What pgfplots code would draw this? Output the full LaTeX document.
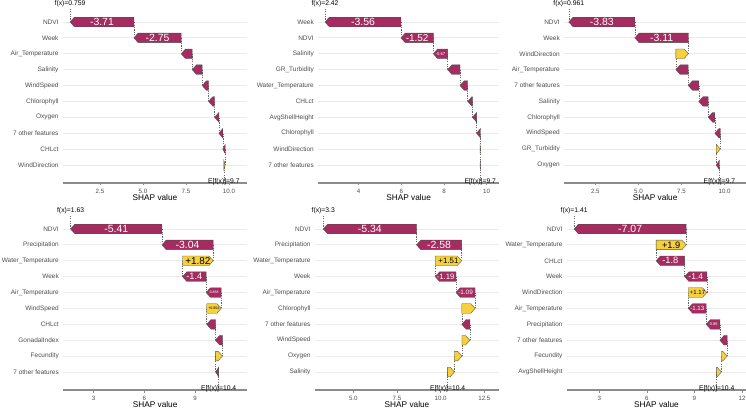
\documentclass[border=0pt]{standalone}
\usepackage{pgfplots}
\usepackage{pgfplotstable}
\pgfplotsset{compat=1.18}
\usepackage{fontspec}
\setmainfont{Liberation Sans}

\definecolor{negc}{HTML}{A52C60}
\definecolor{posc}{HTML}{F7D13D}
\definecolor{gridc}{HTML}{EBEBEB}
\definecolor{axc}{HTML}{8C8C8C}
\definecolor{txtc}{HTML}{4D4D4D}

% SHAP contributions, listed from the bottom row (first step from E[f(x)]) to the top row
\pgfplotstableread[col sep=comma,row sep=\\]{
feat,shap,fs\\
WindDirection,0.08,0\\
CHLct,-0.14,0\\
7 other features,-0.23,0\\
Oxygen,-0.25,0\\
Chlorophyll,-0.35,0\\
WindSpeed,-0.37,0\\
Salinity,-0.58,0\\
Air\_Temperature,-0.641,0\\
Week,-2.75,10.5\\
NDVI,-3.71,10.5\\
}\tabA
\pgfplotstableread[col sep=comma,row sep=\\]{
feat,shap,fs\\
7 other features,-0.01,0\\
WindDirection,0.02,0\\
Chlorophyll,-0.18,0\\
AvgShellHeight,-0.20,0\\
CHLct,-0.22,0\\
Water\_Temperature,-0.36,0\\
GR\_Turbidity,-0.58,0\\
Salinity,-0.67,4.2\\
NDVI,-1.52,10\\
Week,-3.56,10.5\\
}\tabB
\pgfplotstableread[col sep=comma,row sep=\\]{
feat,shap,fs\\
Oxygen,-0.19,0\\
GR\_Turbidity,0.24,0\\
WindSpeed,-0.32,0\\
Chlorophyll,-0.38,0\\
Salinity,-0.55,0\\
7 other features,-0.61,0\\
Air\_Temperature,-0.719,0\\
WindDirection,0.73,0\\
Week,-3.11,10.5\\
NDVI,-3.83,10.5\\
}\tabC
\pgfplotstableread[col sep=comma,row sep=\\]{
feat,shap,fs\\
7 other features,-0.176,0\\
Fecundity,0.40,0\\
GonadalIndex,-0.42,0\\
CHLct,-0.51,0\\
WindSpeed,0.854,3.6\\
Air\_Temperature,-0.888,3.6\\
Week,-1.4,9.3\\
Water\_Temperature,1.82,10\\
Precipitation,-3.04,10.5\\
NDVI,-5.41,10.5\\
}\tabD
\pgfplotstableread[col sep=comma,row sep=\\]{
feat,shap,fs\\
Salinity,0.39,0\\
Oxygen,0.43,0\\
WindSpeed,0.45,0\\
7 other features,-0.46,0\\
Chlorophyll,0.76,0\\
Air\_Temperature,-1.09,6.4\\
Week,-1.19,7.8\\
Water\_Temperature,1.51,7.9\\
Precipitation,-2.58,10.5\\
NDVI,-5.34,10.5\\
}\tabE
\pgfplotstableread[col sep=comma,row sep=\\]{
feat,shap,fs\\
AvgShellHeight,0.30,0\\
Fecundity,0.36,0\\
7 other features,-0.46,0\\
Precipitation,-0.86,4\\
Air\_Temperature,-1.13,6.1\\
WindDirection,1.17,6\\
Week,-1.4,8.5\\
CHLct,-1.8,9.3\\
Water\_Temperature,1.9,9.3\\
NDVI,-7.07,10.5\\
}\tabF

\pgfplotsset{
  wfbar/.style={draw=black!70, line width=0.35bp, mark=none},
  wfconn/.style={draw=black!60, line width=0.5bp, dash pattern=on 1.2bp off 1.2bp, mark=none},
  wf/.style={
    scale only axis, height=183bp, anchor=south west, clip=false,
    ymin=-0.133, ymax=11.385,
    ytick={1,...,10},
    axis x line*=bottom, axis y line*=left,
    y axis line style={draw=none},
    x axis line style={draw=axc, line width=1.6bp, -},
    ytick style={draw=none},
    xtick style={draw=axc, line width=0.6bp},
    major tick length=2.5bp,
    tick align=outside,
    ymajorgrids, major grid style={draw=gridc, line width=0.8bp},
    /pgf/number format/assume math mode=true,
    xticklabel style={font=\fontsize{6.2}{7}\selectfont, text=txtc},
    yticklabel style={font=\fontsize{6.5}{7}\selectfont, text=txtc, xshift=1.5bp},
    xlabel={SHAP value},
    xlabel style={font=\fontsize{8.3}{9}\selectfont, yshift=6bp},
  },
  dec/.style={xticklabel style={/pgf/number format/fixed, /pgf/number format/fixed zerofill, /pgf/number format/precision=1}},
}

% #1 table, #2 base value E[f(x)], #3 arrowhead length (axis units), #4 f(x) text, #5 E[f(x)] text
\newcommand{\waterfall}[5]{%
  \pgfplotstablegetrowsof{#1}%
  \pgfmathtruncatemacro{\wfLast}{\pgfplotsretval-1}%
  \pgfmathsetmacro{\wfCum}{#2}%
  \addplot[wfconn] coordinates {(#2,1) (#2,-0.133)};
  \pgfplotsforeachungrouped \wfI in {0,...,\wfLast}{%
    \pgfplotstablegetelem{\wfI}{shap}\of{#1}\let\wfV\pgfplotsretval
    \pgfplotstablegetelem{\wfI}{fs}\of{#1}\let\wfFs\pgfplotsretval
    \pgfmathsetmacro{\wfS}{\wfCum}%
    \pgfmathsetmacro{\wfE}{\wfCum+\wfV}%
    \pgfmathsetmacro{\wfY}{\wfI+1}%
    \pgfmathsetmacro{\wfYn}{\wfI+2}%
    \pgfmathsetmacro{\wfYt}{\wfY+0.3}%
    \pgfmathsetmacro{\wfYb}{\wfY-0.3}%
    \pgfmathsetmacro{\wfM}{(\wfS+\wfE)/2}%
    \pgfmathsetmacro{\wfH}{min(#3,abs(\wfV))}%
    \ifdim\wfV pt<0pt
      \def\wfFill{negc}\def\wfText{white}%
      \pgfmathsetmacro{\wfNeck}{\wfE+\wfH}%
    \else
      \def\wfFill{posc}\def\wfText{black}%
      \pgfmathsetmacro{\wfNeck}{\wfE-\wfH}%
    \fi
    \edef\wfDo{\noexpand\addplot[wfbar, fill=\wfFill] coordinates {(\wfS,\wfYt) (\wfNeck,\wfYt) (\wfE,\wfY) (\wfNeck,\wfYb) (\wfS,\wfYb)} --cycle;}%
    \wfDo
    \ifdim\wfFs pt>0pt
      \edef\wfDo{\noexpand\node[inner sep=0pt, text=\wfText, font=\noexpand\fontsize{\wfFs}{\wfFs}\noexpand\selectfont] at (axis cs:\wfM,\wfY) {\noexpand\pgfmathprintnumber[fixed,precision=3,showpos,assume math mode=true]{\wfV}};}%
      \wfDo
    \fi
    \ifnum\wfI<\wfLast
      \edef\wfDo{\noexpand\addplot[wfconn] coordinates {(\wfE,\wfY) (\wfE,\wfYn)};}%
      \wfDo
    \else
      \edef\wfDo{\noexpand\addplot[wfconn] coordinates {(\wfE,\wfY) (\wfE,10.85)};
        \noexpand\node[inner sep=0pt, font=\noexpand\fontsize{6.8}{7}\noexpand\selectfont] at (axis cs:\wfE,11.13) {f(x)=#4};}%
      \wfDo
    \fi
    \pgfmathsetmacro{\wfCum}{\wfE}%
  }%
  \node[inner sep=0pt, font=\fontsize{6.8}{7}\selectfont, yshift=1bp] at (axis cs:#2,-0.133) {E[f(x)]=#5};
}

\begin{document}
\begin{tikzpicture}
\path[use as bounding box] (0,0) rectangle (746bp,409bp);

\begin{axis}[wf, dec, at={(63bp,226bp)}, width=184bp, xmin=0.349, xmax=11.047,
  xtick={2.5,5,7.5,10}, yticklabels from table={\tabA}{feat}]
  \waterfall{\tabA}{9.7}{0.25}{0.759}{9.7}
\end{axis}

\begin{axis}[wf, at={(318.3bp,226bp)}, width=180.7bp, xmin=2.106, xmax=10.578,
  xtick={4,6,8,10}, yticklabels from table={\tabB}{feat}]
  \waterfall{\tabB}{9.7}{0.2}{2.42}{9.7}
\end{axis}

\begin{axis}[wf, dec, at={(564.3bp,226bp)}, width=181.7bp, xmin=0.703, xmax=11.24,
  xtick={2.5,5,7.5,10}, yticklabels from table={\tabC}{feat}]
  \waterfall{\tabC}{9.7}{0.25}{0.961}{9.7}
\end{axis}

\begin{axis}[wf, at={(63.3bp,19bp)}, width=183.7bp, xmin=1.199, xmax=12.08,
  xtick={3,6,9}, yticklabels from table={\tabD}{feat}]
  \waterfall{\tabD}{10.4}{0.255}{1.63}{10.4}
\end{axis}

\begin{axis}[wf, dec, at={(315bp,19bp)}, width=184bp, xmin=2.808, xmax=13.34,
  xtick={5,7.5,10,12.5}, yticklabels from table={\tabE}{feat}]
  \waterfall{\tabE}{10.4}{0.246}{3.3}{10.4}
\end{axis}

\begin{axis}[wf, at={(567bp,19bp)}, width=179bp, xmin=0.963, xmax=12.25,
  xtick={3,6,9,12}, yticklabels from table={\tabF}{feat}]
  \waterfall{\tabF}{10.4}{0.271}{1.41}{10.4}
\end{axis}
\end{tikzpicture}
\end{document}
